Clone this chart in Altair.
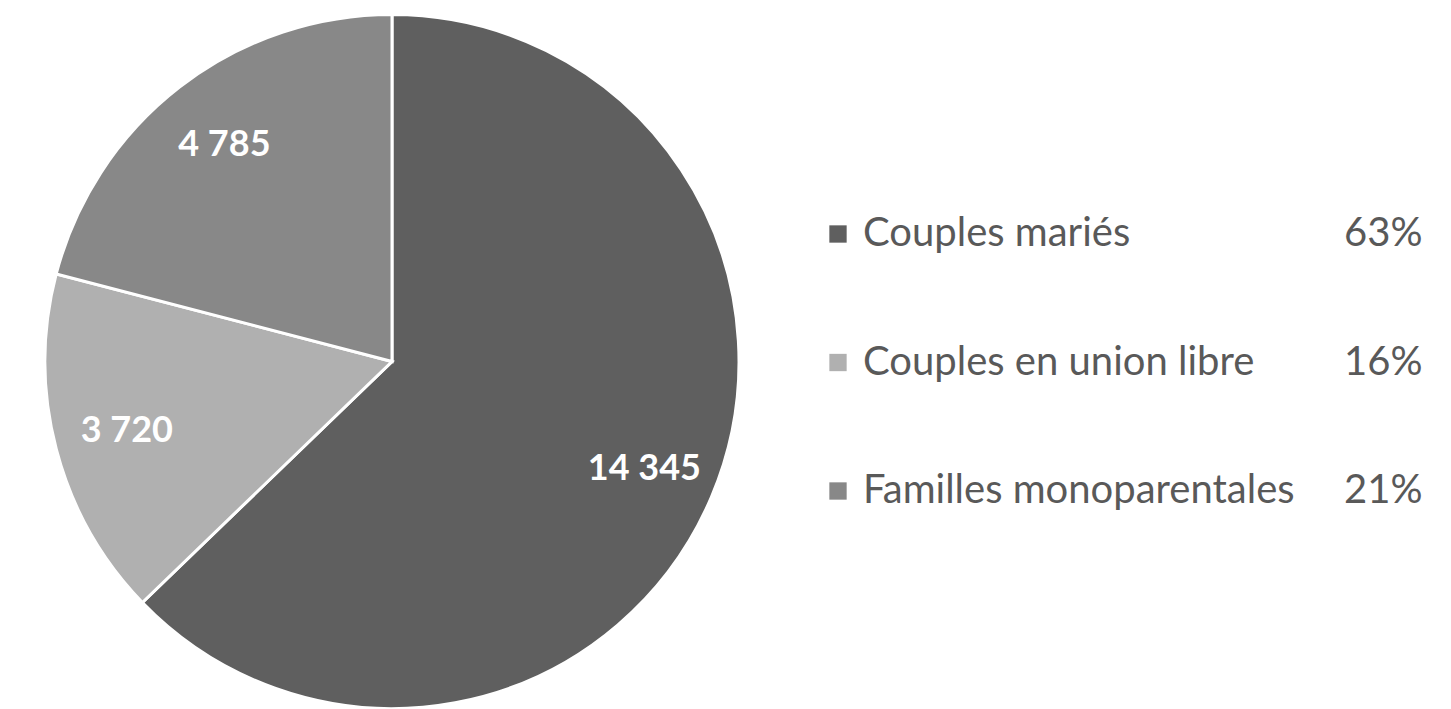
import altair as alt
import pandas as pd

categories = ["Couples mariés", "Couples en union libre", "Familles monoparentales"]
values = [14345, 3720, 4785]
percents = ["63%", "16%", "21%"]
colors = ["#5f5f5f", "#b0b0b0", "#888888"]

df = pd.DataFrame({
    "cat": categories,
    "val": values,
    "pct": percents,
    "order": list(range(len(categories))),
    "lab": [f"{v:,}".replace(",", " ") for v in values],
})

R = 347
color_scale = alt.Scale(domain=categories, range=colors)

base = alt.Chart(df).encode(
    theta=alt.Theta("val:Q", stack=True),
    order=alt.Order("order:Q"),
)

arcs = base.mark_arc(radius=R, stroke="white", strokeWidth=3).encode(
    color=alt.Color("cat:N", scale=color_scale, legend=None)
)

labels = base.mark_text(radius=R * 0.79, font="Lato", fontSize=36, fontWeight="bold",
                        color="white", align="center", baseline="middle").encode(
    text="lab:N"
)

pie = alt.layer(arcs, labels).properties(width=768, height=693)

yenc = alt.Y("cat:N", sort=categories, axis=None,
             scale=alt.Scale(type="point", range=[219, 476], padding=0))

leg_base = alt.Chart(df)
squares = leg_base.mark_square(size=300, opacity=1).encode(
    x=alt.value(62), y=yenc,
    color=alt.Color("cat:N", scale=color_scale, legend=None),
)
leg_text = leg_base.mark_text(align="left", baseline="middle", font="Lato",
                              fontSize=40, color="#595959").encode(
    x=alt.value(87), y=yenc, text="cat:N"
)
pct_text = leg_base.mark_text(align="left", baseline="middle", font="Lato",
                              fontSize=40, color="#595959").encode(
    x=alt.value(568), y=yenc, text="pct:N"
)
legend = alt.layer(squares, leg_text, pct_text).properties(width=660, height=693)

chart = alt.hconcat(pie, legend, spacing=0).properties(padding=0).configure_view(stroke=None)

chart.save("out.html", embed_options={"renderer": "svg", "actions": False})
